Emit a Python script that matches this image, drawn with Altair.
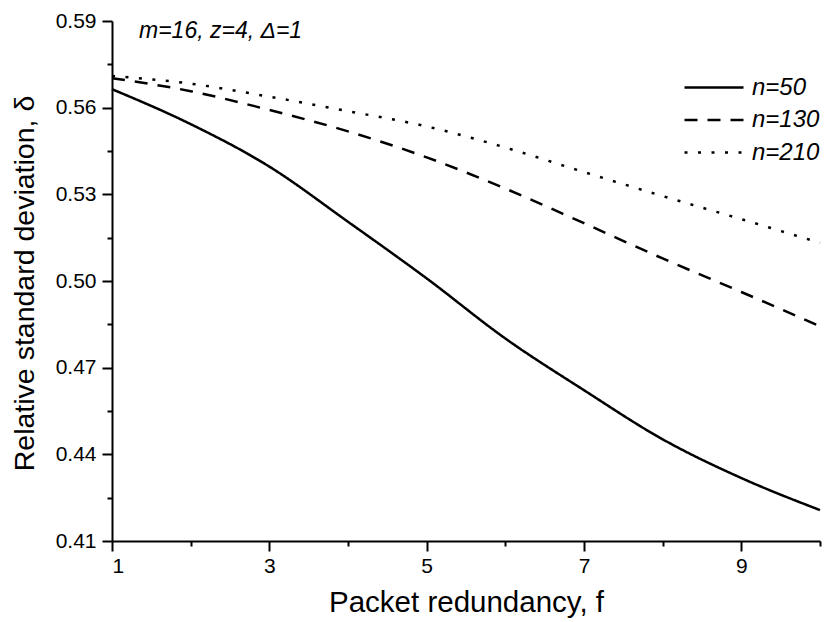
import altair as alt
import pandas as pd

f_vals = [1, 2, 3, 4, 5, 6, 7, 8, 9, 10]
n50 = [0.5664, 0.5543, 0.5396, 0.5205, 0.5009, 0.4801, 0.4622, 0.4452, 0.4318, 0.4207]
n130 = [0.5702, 0.5657, 0.5592, 0.5518, 0.5428, 0.5320, 0.5200, 0.5078, 0.4962, 0.4843]
n210 = [0.5710, 0.5683, 0.5638, 0.5588, 0.5535, 0.5462, 0.5377, 0.5294, 0.5214, 0.5132]
series_names = ["n=50", "n=130", "n=210"]
x_major = [1, 3, 5, 7, 9]
x_minor = [2, 4, 6, 8, 10]
y_major = [0.41, 0.44, 0.47, 0.50, 0.53, 0.56, 0.59]
y_minor = [0.425, 0.455, 0.485, 0.515, 0.545, 0.575]
annotation = "m=16, z=4, \u0394=1"

rows = []
for name, vals in zip(series_names, [n50, n130, n210]):
    for f, v in zip(f_vals, vals):
        rows.append({"f": f, "delta": v, "series": name})
df = pd.DataFrame(rows)

FONT = "Liberation Sans"
xscale = alt.Scale(domain=[1, 10], nice=False, zero=False)
yscale = alt.Scale(domain=[0.41, 0.59], nice=False, zero=False)

lines = alt.Chart(df).mark_line(
    interpolate="monotone", strokeWidth=2.5, color="black", strokeCap="butt"
).encode(
    x=alt.X("f:Q", scale=xscale, axis=alt.Axis(
        values=x_major, orient="bottom", tickSize=10, tickWidth=2, domainWidth=2,
        domainColor="black", tickColor="black", labelColor="black",
        labelFont=FONT, labelFontSize=21, labelPadding=4, grid=False,
        title="Packet redundancy, f", titleFont=FONT, titleFontSize=29.5,
        titleFontWeight="normal", titleColor="black",
        titleBaseline="alphabetic", titleY=70)),
    y=alt.Y("delta:Q", scale=yscale, axis=alt.Axis(
        values=y_major, orient="left", tickSize=10, tickWidth=2, domainWidth=2,
        domainColor="black", tickColor="black", labelColor="black",
        labelFont=FONT, labelFontSize=21, labelPadding=6, grid=False,
        format=".2f",
        title="Relative standard deviation, \u03b4", titleFont=FONT, titleFontSize=28.5,
        titleFontWeight="normal", titleColor="black",
        titleAngle=270, titleAlign="center", titleBaseline="middle",
        titleX=-88, titleY=262)),
    strokeDash=alt.StrokeDash("series:N", scale=alt.Scale(
        domain=series_names, range=[[1, 0], [13, 10], [3, 10.5]]),
        legend=alt.Legend(
            title=None, orient="none", legendX=571, legendY=54,
            symbolType="stroke", symbolSize=3481, symbolStrokeWidth=2.5,
            symbolStrokeColor="black", labelFont=FONT, labelFontSize=24,
            labelFontStyle="italic", labelColor="black", labelOffset=7,
            clipHeight=25, rowPadding=7.5, padding=0)),
)

minor = alt.Chart(df).mark_line(opacity=0).encode(
    x=alt.X("f:Q", scale=xscale, axis=alt.Axis(
        values=x_minor, orient="bottom", tickSize=5, tickWidth=2,
        tickColor="black", labels=False, domain=False, grid=False, title="")),
    y=alt.Y("delta:Q", scale=yscale, axis=alt.Axis(
        values=y_minor, orient="left", tickSize=5, tickWidth=2,
        tickColor="black", labels=False, domain=False, grid=False, title="")),
)

note = alt.Chart(pd.DataFrame({"t": [annotation]})).mark_text(
    align="left", baseline="alphabetic", font=FONT, fontSize=23,
    fontStyle="italic", color="black"
).encode(text="t:N", x=alt.value(27), y=alt.value(17))

chart = alt.layer(lines, minor, note).resolve_axis(
    x="independent", y="independent"
).properties(
    width=708, height=520,
    autosize=alt.AutoSizeParams(type="none"),
    padding={"left": 112, "top": 21, "right": 10, "bottom": 81},
).configure_view(stroke=None)

chart.save("out.html", embed_options={"renderer": "svg", "actions": False})
